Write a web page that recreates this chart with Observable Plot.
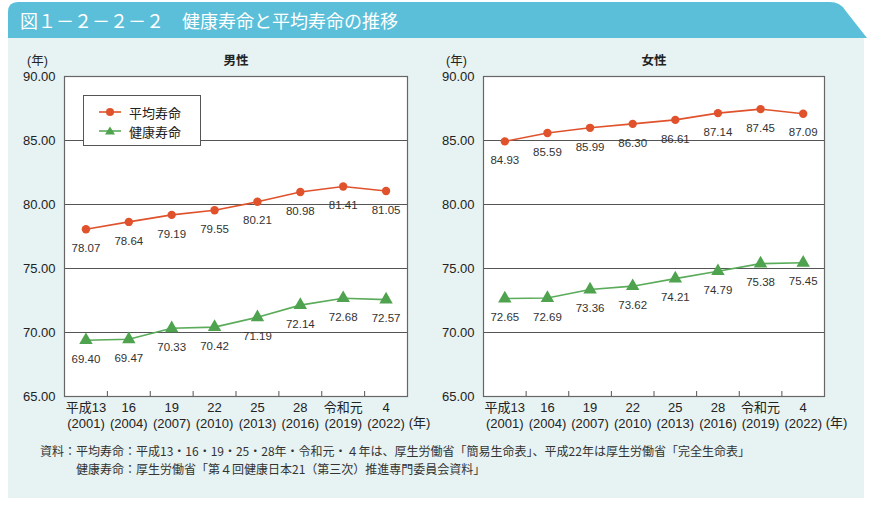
<!DOCTYPE html>
<html><head><meta charset="utf-8">
<script src="https://cdn.jsdelivr.net/npm/d3@7"></script>
<script src="https://cdn.jsdelivr.net/npm/@observablehq/plot@0.6"></script>
<style>
body{margin:0;background:#fff;}
#wrap{position:relative;width:870px;height:505px;overflow:hidden;font-family:"Liberation Sans","Noto Sans CJK JP",sans-serif;color:#222;}
#panel{position:absolute;left:8px;top:37px;width:856px;height:461px;background:#e7f2f2;}
#hdr{position:absolute;left:0;top:0;}
#ttl{position:absolute;left:20px;top:8px;font-size:18px;color:#fff;font-family:"Noto Sans CJK JP",sans-serif;line-height:24px;white-space:nowrap;}
.chart{position:absolute;top:40px;}
#legend{position:absolute;left:83px;top:95px;width:118px;height:51px;background:#fff;border:1px solid #555;box-sizing:border-box;}
.lg{position:absolute;left:14px;height:18px;display:flex;align-items:center;font-size:13px;font-family:"Noto Sans CJK JP",sans-serif;}
.lg svg{margin-right:7px;}
#note{position:absolute;left:40px;top:442px;font-size:12px;line-height:18px;color:#333;font-family:"Noto Sans CJK JP",sans-serif;white-space:nowrap;}
</style></head>
<body><div id="wrap">
<div id="panel"></div>
<svg id="hdr" width="870" height="40"><path d="M8,38 L8,12 Q8,2 18,2 L830,2 Q840,2 845,10 L867,38 Z" fill="#5bbfd9"/></svg>
<div id="ttl">図１－２－２－２　健康寿命と平均寿命の推移</div>
<div id="left" class="chart" style="left:0px"></div>
<div id="right" class="chart" style="left:435px"></div>
<div id="legend"></div>
<div id="note"></div>
</div>
<script>
const yearsJP = ["平成13","16","19","22","25","28","令和元","4"];
const yearsAD = ["(2001)","(2004)","(2007)","(2010)","(2013)","(2016)","(2019)","(2022)"];
const maleAvg = [78.07,78.64,79.19,79.55,80.21,80.98,81.41,81.05];
const maleHealthy = [69.40,69.47,70.33,70.42,71.19,72.14,72.68,72.57];
const femaleAvg = [84.93,85.59,85.99,86.30,86.61,87.14,87.45,87.09];
const femaleHealthy = [72.65,72.69,73.36,73.62,74.21,74.79,75.38,75.45];
const yTicks = [65,70,75,80,85,90];
const seriesNames = ["平均寿命","健康寿命"];
const titles = ["男性","女性"];
const unit = "(年)";
const sourceLines = [
  "資料：平均寿命：平成13・16・19・25・28年・令和元・４年は、厚生労働省「簡易生命表」、平成22年は厚生労働省「完全生命表」",
  "健康寿命：厚生労働省「第４回健康日本21（第三次）推進専門委員会資料」"
];

const ORANGE = "#e0522c";
const GREEN = "#5aab5a";
const FONT = "Liberation Sans, Noto Sans CJK JP, sans-serif";

function chart(title, avg, healthy, ml, mr) {
  const idx = d3.range(yearsJP.length);
  const bounds = idx.slice(1).map(i => i - 0.5);
  return Plot.plot({
    width: 435, height: 400,
    marginLeft: ml, marginRight: mr, marginTop: 36, marginBottom: 44,
    style: {background: "transparent", overflow: "visible", fontFamily: FONT, color: "#222"},
    x: {type: "linear", domain: [-0.5, yearsJP.length - 0.5]},
    y: {domain: [65, 90]},
    marks: [
      Plot.frame({fill: "white"}),
      Plot.ruleY(yTicks.slice(1, -1), {stroke: "#555", strokeWidth: 1}),
      Plot.ruleX(bounds, {insetTop: 315, stroke: "#555"}),
      Plot.axisY({ticks: yTicks, tickFormat: d => d.toFixed(2), tickSize: 0, tickPadding: 9, fontSize: 13, fill: "#222"}),
      Plot.axisX({ticks: idx, tickFormat: i => yearsJP[i] + "\n" + yearsAD[i], tickSize: 0, tickPadding: 4, fontSize: 13, lineHeight: 1.25, fill: "#222"}),
      Plot.line(avg, {x: (d, i) => i, y: d => d, stroke: ORANGE, strokeWidth: 1.6}),
      Plot.dot(avg, {x: (d, i) => i, y: d => d, r: 4.2, fill: ORANGE, stroke: "none"}),
      Plot.text(avg, {x: (d, i) => i, y: d => d, text: d => d.toFixed(2), dy: 19, fontSize: 11.5, fill: "#333"}),
      Plot.line(healthy, {x: (d, i) => i, y: d => d, stroke: GREEN, strokeWidth: 1.6}),
      Plot.dot(healthy, {x: (d, i) => i, y: d => d, r: 5, symbol: "triangle", fill: "#4fa34f", stroke: "none"}),
      Plot.text(healthy, {x: (d, i) => i, y: d => d, text: d => d.toFixed(2), dy: 19, fontSize: 11.5, fill: "#333"}),
      Plot.frame({stroke: "#666", strokeWidth: 1.2}),
      Plot.text([title], {frameAnchor: "top", dy: -16, textAnchor: "middle", lineAnchor: "middle", fontWeight: "bold", fontSize: 12.5, fill: "#222"}),
      Plot.text([unit], {frameAnchor: "top-left", dx: -27, dy: -16, textAnchor: "middle", lineAnchor: "middle", fontSize: 12.5, fill: "#222"}),
      Plot.text([unit], {frameAnchor: "bottom-right", dx: 12, dy: 26, textAnchor: "middle", lineAnchor: "middle", fontSize: 13, fill: "#222"})
    ]
  });
}

document.getElementById("left").appendChild(chart(titles[0], maleAvg, maleHealthy, 64, 28));
document.getElementById("right").appendChild(chart(titles[1], femaleAvg, femaleHealthy, 48, 46));

// legend
const lg = document.getElementById("legend");
seriesNames.forEach((name, k) => {
  const col = k === 0 ? ORANGE : GREEN;
  const sym = k === 0
    ? `<circle cx="12" cy="7" r="4" fill="${ORANGE}"/>`
    : `<path d="M12,2.5 L17,10.5 L7,10.5 Z" fill="#4fa34f"/>`;
  const div = document.createElement("div");
  div.className = "lg";
  div.style.top = (k === 0 ? 7 : 26) + "px";
  div.innerHTML = `<svg width="24" height="14"><line x1="1" y1="7" x2="23" y2="7" stroke="${col}" stroke-width="1.6"/>${sym}</svg><span>${name}</span>`;
  lg.appendChild(div);
});

// source note
const note = document.getElementById("note");
note.innerHTML = `<div>${sourceLines[0]}</div><div style="padding-left:36px">${sourceLines[1]}</div>`;
</script>
</body></html>
